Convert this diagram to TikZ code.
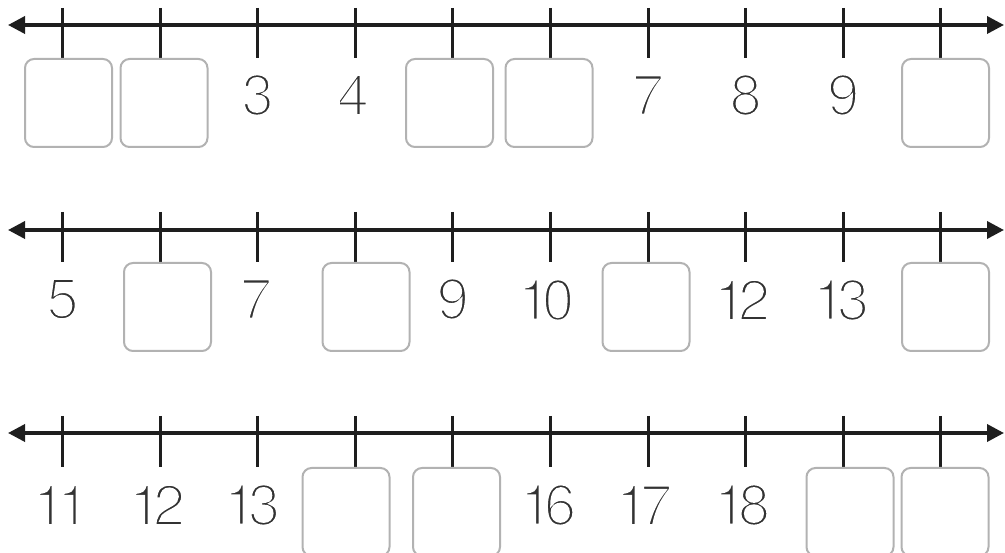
\documentclass[tikz,border=0pt]{standalone}
\usepackage{fontspec}
\setmainfont{TeX Gyre Heros}[LetterSpace=-14]
\usetikzlibrary{arrows.meta}
\definecolor{axisc}{HTML}{1E1E1E}
\definecolor{boxc}{HTML}{B2B2B2}
\definecolor{numc}{HTML}{333333}
\newcommand{\thindigits}[1]{\special{pdf:literal direct 2 Tr 1 1 1 RG 2.8 w}#1\special{pdf:literal direct 0 Tr}}
\tikzset{
  axisline/.style={line width=3.6pt, draw=axisc, {Triangle[length=17pt,width=17pt]}-{Triangle[length=17pt,width=17pt]}},
  tickline/.style={line width=3pt, draw=axisc},
  answerbox/.style={draw=boxc, line width=2pt, rounded corners=9pt, minimum width=87pt, minimum height=88pt, inner sep=0pt, anchor=north},
  numlabel/.style={text=numc, inner sep=0pt, font=\rmfamily\fontsize{58}{58}\selectfont}
}
\begin{document}
\begin{tikzpicture}[x=1pt,y=-1pt]
\useasboundingbox (0,0) rectangle (1005,553);
\clip (0,0) rectangle (1005,553);
% axes
\coordinate (L1) at (8,25);   \coordinate (R1) at (1004,25);
\coordinate (L2) at (8,230);  \coordinate (R2) at (1004,230);
\coordinate (L3) at (8,433);  \coordinate (R3) at (1004,433);
\draw[axisline] (L1) -- (R1);
\draw[axisline] (L2) -- (R2);
\draw[axisline] (L3) -- (R3);
% ticks
\foreach \i in {0,...,9}{
  \pgfmathsetmacro{\tx}{62.5+97.6*\i}
  \coordinate (t1a\i) at (\tx,8);   \coordinate (t1b\i) at (\tx,58);
  \coordinate (t2a\i) at (\tx,212); \coordinate (t2b\i) at (\tx,262);
  \coordinate (t3a\i) at (\tx,416); \coordinate (t3b\i) at (\tx,467);
  \draw[tickline] (t1a\i) -- (t1b\i);
  \draw[tickline] (t2a\i) -- (t2b\i);
  \draw[tickline] (t3a\i) -- (t3b\i);
}
% row 1
\node[answerbox] (b11) at (68.5,58) {};
\node[answerbox] (b12) at (164,58) {};
\node[numlabel] (n13) at (257.7,95) {\thindigits{3}};
\node[numlabel] (n14) at (353,95) {\thindigits{4}};
\node[answerbox] (b15) at (449.5,58) {};
\node[answerbox] (b16) at (549,58) {};
\node[numlabel] (n17) at (648,95) {\thindigits{7}};
\node[numlabel] (n18) at (745.7,95) {\thindigits{8}};
\node[numlabel] (n19) at (843.3,95) {\thindigits{9}};
\node[answerbox] (b110) at (945.5,58) {};
% row 2
\node[numlabel] (n21) at (62.5,299) {\thindigits{5}};
\node[answerbox] (b22) at (167.5,262) {};
\node[numlabel] (n23) at (256,299) {\thindigits{7}};
\node[answerbox] (b24) at (366,262) {};
\node[numlabel] (n25) at (452.9,299) {\thindigits{9}};
\node[numlabel] (n26) at (546,300) {\thindigits{10}};
\node[answerbox] (b27) at (646,262) {};
\node[numlabel] (n28) at (742,300) {\thindigits{12}};
\node[numlabel] (n29) at (841,300) {\thindigits{13}};
\node[answerbox] (b210) at (945.5,262) {};
% row 3
\node[numlabel] (n31) at (61,505) {\thindigits{11}};
\node[numlabel] (n32) at (157,505) {\thindigits{12}};
\node[numlabel] (n33) at (252,505) {\thindigits{13}};
\node[answerbox] (b34) at (346,467) {};
\node[answerbox] (b35) at (456.5,467) {};
\node[numlabel] (n36) at (548,505) {\thindigits{16}};
\node[numlabel] (n37) at (644,505) {\thindigits{17}};
\node[numlabel] (n38) at (742,505) {\thindigits{18}};
\node[answerbox] (b39) at (850,467) {};
\node[answerbox] (b310) at (945,467) {};
\end{tikzpicture}
\end{document}
